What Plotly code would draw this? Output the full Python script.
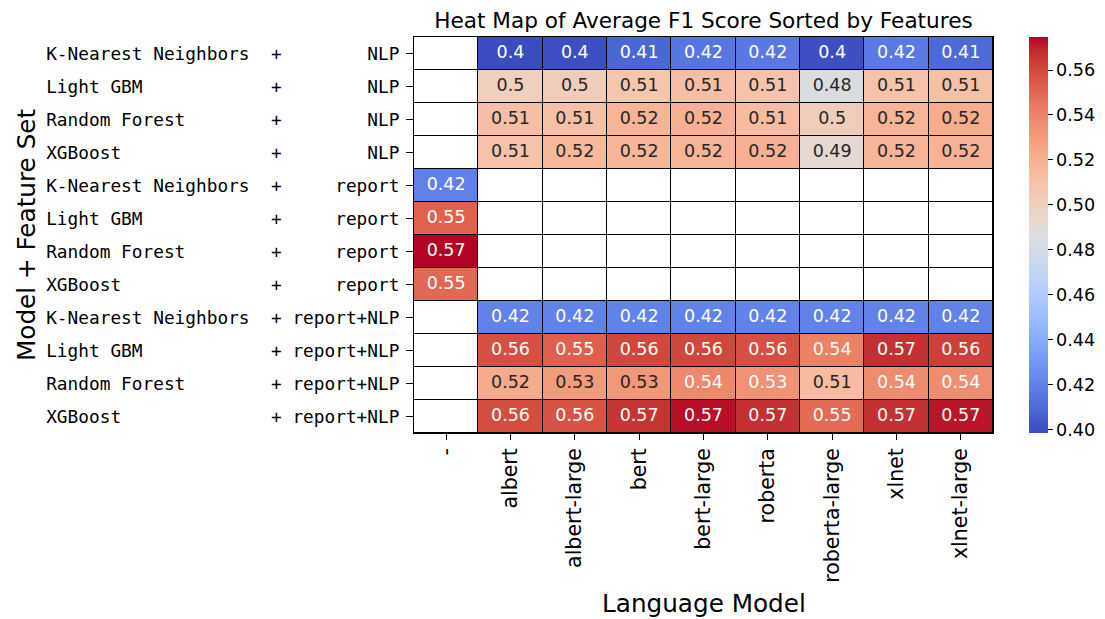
import numpy as np
import plotly.graph_objects as go

nan = float("nan")

# ---- data ----
models = ["K-Nearest Neighbors", "Light GBM", "Random Forest", "XGBoost"]
feature_sets = ["NLP", "report", "report+NLP"]
lang_models = ["-", "albert", "albert-large", "bert", "bert-large", "roberta",
               "roberta-large", "xlnet", "xlnet-large"]

knn_nlp = [nan, 0.3984, 0.3990, 0.4085, 0.4155, 0.4160, 0.3995, 0.4165, 0.4100]
lgbm_nlp = [nan, 0.5010, 0.5020, 0.5080, 0.5120, 0.5090, 0.4845, 0.5100, 0.5110]
rf_nlp = [nan, 0.5120, 0.5110, 0.5180, 0.5200, 0.5140, 0.5020, 0.5180, 0.5220]
xgb_nlp = [nan, 0.5100, 0.5160, 0.5170, 0.5180, 0.5200, 0.4920, 0.5180, 0.5190]

knn_report = [0.4200, nan, nan, nan, nan, nan, nan, nan, nan]
lgbm_report = [0.5520, nan, nan, nan, nan, nan, nan, nan, nan]
rf_report = [0.5747, nan, nan, nan, nan, nan, nan, nan, nan]
xgb_report = [0.5500, nan, nan, nan, nan, nan, nan, nan, nan]

knn_rn = [nan, 0.4205, 0.4205, 0.4205, 0.4205, 0.4205, 0.4205, 0.4205, 0.4205]
lgbm_rn = [nan, 0.5580, 0.5530, 0.5610, 0.5610, 0.5580, 0.5410, 0.5670, 0.5630]
rf_rn = [nan, 0.5230, 0.5300, 0.5320, 0.5380, 0.5345, 0.5140, 0.5370, 0.5360]
xgb_rn = [nan, 0.5590, 0.5570, 0.5660, 0.5730, 0.5670, 0.5490, 0.5670, 0.5720]

rows = [knn_nlp, lgbm_nlp, rf_nlp, xgb_nlp,
        knn_report, lgbm_report, rf_report, xgb_report,
        knn_rn, lgbm_rn, rf_rn, xgb_rn]

row_labels = []
for f in feature_sets:
    for m in models:
        row_labels.append(f"{m:<20} + {f:>10}".replace(" ", "\u00a0"))

Z = np.array(rows, dtype=float)
zmin = float(np.nanmin(Z))
zmax = float(np.nanmax(Z))

# matplotlib "coolwarm" (Moreland) control points
cw = [(59, 76, 192), (68, 90, 204), (77, 104, 215), (87, 117, 225), (98, 130, 234),
      (108, 142, 241), (119, 154, 247), (130, 165, 251), (141, 176, 254), (152, 185, 255),
      (163, 194, 255), (174, 201, 253), (184, 208, 249), (194, 213, 244), (204, 217, 238),
      (213, 219, 230), (221, 221, 221), (229, 216, 209), (236, 211, 197), (241, 204, 185),
      (245, 196, 173), (247, 187, 160), (247, 177, 148), (247, 166, 135), (244, 154, 123),
      (241, 141, 111), (236, 127, 99), (229, 112, 88), (222, 96, 77), (213, 80, 66),
      (203, 62, 56), (192, 40, 47), (180, 4, 38)]
n = len(cw)
colorscale = [[i / (n - 1), "rgb(%d,%d,%d)" % c] for i, c in enumerate(cw)]


def cmap(t):
    t = min(max(t, 0.0), 1.0) * (n - 1)
    i = min(int(t), n - 2)
    f = t - i
    return [cw[i][k] * (1 - f) + cw[i + 1][k] * f for k in range(3)]


def lum(rgb):
    out = []
    for c in rgb:
        c = c / 255.0
        out.append(c / 12.92 if c <= 0.03928 else ((c + 0.055) / 1.055) ** 2.4)
    return 0.2126 * out[0] + 0.7152 * out[1] + 0.0722 * out[2]


tx, ty, tt, tc = [], [], [], []
for r in range(Z.shape[0]):
    for c in range(Z.shape[1]):
        v = Z[r, c]
        if np.isnan(v):
            continue
        tx.append(c)
        ty.append(r)
        tt.append(format(v, ".2g"))
        col = cmap((v - zmin) / (zmax - zmin))
        tc.append("#262626" if lum(col) > 0.408 else "#ffffff")

xs = list(range(len(lang_models)))
ys = list(range(len(row_labels)))

# page body adds an 8px offset; figure coordinates below are screen - 8
W, H = 1097, 611
L, R, T, B = 406, 985, 29, 425

fig = go.Figure()
fig.add_trace(go.Heatmap(
    x=xs, y=ys, z=np.zeros_like(Z),
    colorscale=[[0, "white"], [1, "white"]], showscale=False,
    xgap=1, ygap=1, hoverinfo="skip"))
fig.add_trace(go.Heatmap(
    x=xs, y=ys, z=Z, zmin=zmin, zmax=zmax,
    colorscale=colorscale, xgap=1, ygap=1,
    colorbar=dict(
        x=(1029 - 8) / W, xanchor="left", xref="container",
        y=0.5, yanchor="middle", yref="paper", len=1.0, lenmode="fraction",
        thickness=19, outlinewidth=0, xpad=0, ypad=0,
        tickmode="linear", tick0=0.40, dtick=0.02, tickformat=".2f",
        ticks="outside", ticklen=5, tickcolor="black",
        tickfont=dict(family="DejaVu Sans", size=17.6, color="black"),
    )))
fig.add_trace(go.Scatter(
    x=tx, y=ty, text=tt, mode="text",
    textfont=dict(family="DejaVu Sans", size=17.5, color=tc),
    hoverinfo="skip", showlegend=False))

fig.update_layout(
    width=W, height=H,
    margin=dict(l=L, r=W - R, t=T, b=H - B, autoexpand=False),
    paper_bgcolor="white", plot_bgcolor="black",
    showlegend=False,
    title=dict(text="Heat Map of Average F1 Score Sorted by Features",
               x=(L + R) / 2 / W, xanchor="center", xref="container",
               y=1 - 12 / H, yanchor="middle", yref="container",
               font=dict(family="DejaVu Sans", size=21.6, color="black")),
    xaxis=dict(range=[-0.5, len(lang_models) - 0.5], tickmode="array",
               tickvals=xs, ticktext=lang_models, tickangle=-90,
               ticks="outside", ticklen=6, tickcolor="black",
               tickfont=dict(family="DejaVu Sans", size=20.5, color="black"),
               showgrid=False, zeroline=False,
               showline=True, mirror=True, linecolor="black", linewidth=1),
    yaxis=dict(range=[len(row_labels) - 0.5, -0.5], tickmode="array",
               tickvals=ys, ticktext=row_labels,
               ticks="outside", ticklen=7, tickcolor="black",
               ticklabelstandoff=3,
               tickfont=dict(family="DejaVu Sans Mono", size=17.8, color="black"),
               showgrid=False, zeroline=False,
               showline=True, mirror=True, linecolor="black", linewidth=1),
    annotations=[
        dict(text="Language Model", xref="paper", yref="paper",
             x=0.5, y=(B - (603 - 8)) / (B - T), xanchor="center", yanchor="middle",
             showarrow=False, font=dict(family="DejaVu Sans", size=24.7, color="black")),
        dict(text="Model + Feature Set", xref="paper", yref="paper",
             x=((26 - 8) - L) / (R - L), y=0.5, xanchor="center", yanchor="middle",
             textangle=-90, showarrow=False,
             font=dict(family="DejaVu Sans", size=24.7, color="black")),
    ],
)

fig.write_html("out.html")
